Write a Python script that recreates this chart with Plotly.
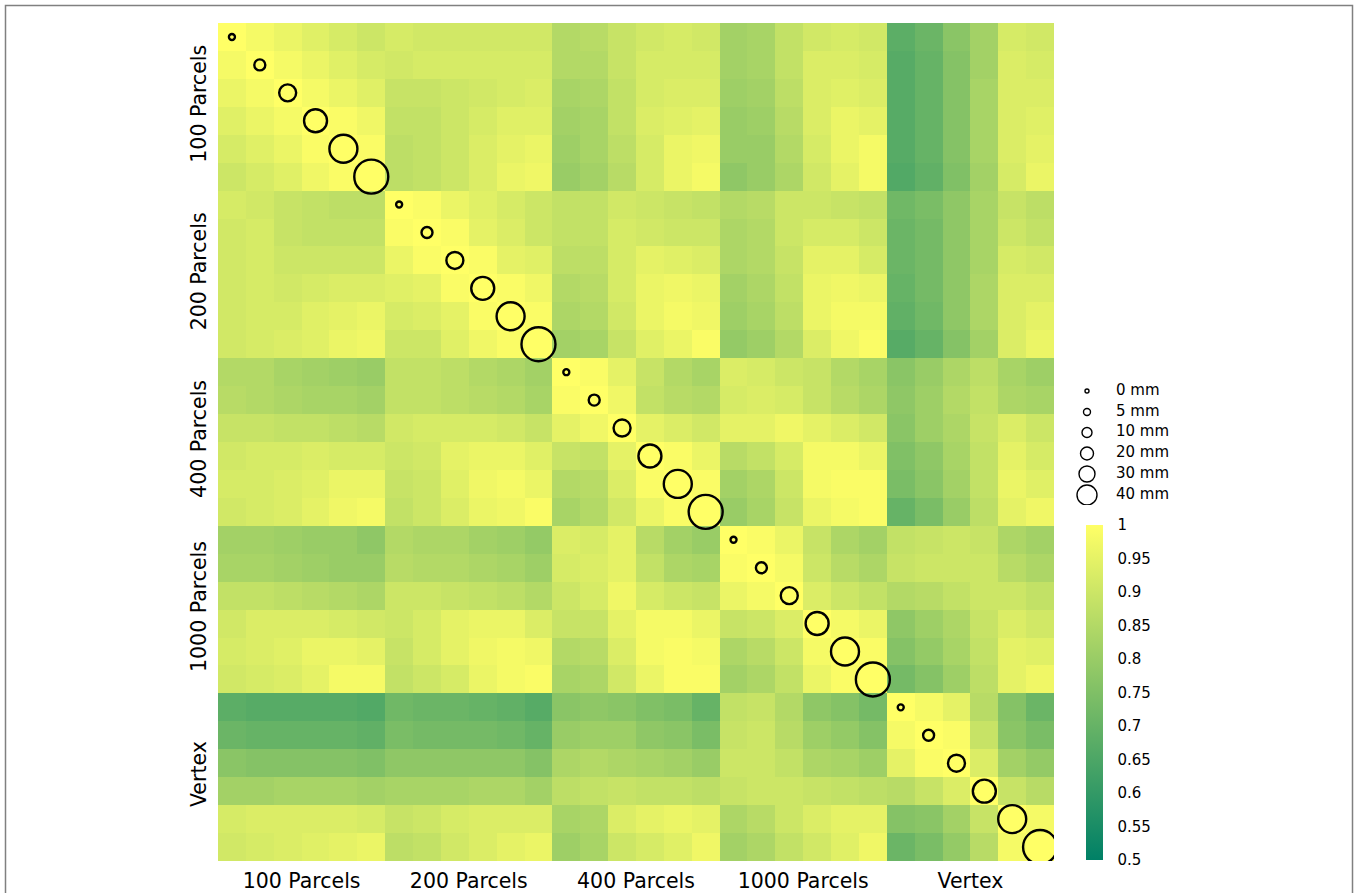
import numpy as np
import plotly.graph_objects as go

# ---------------- data ----------------
groups = ["100 Parcels", "200 Parcels", "400 Parcels", "1000 Parcels", "Vertex"]
smoothing_labels = ["0 mm", "5 mm", "10 mm", "20 mm", "30 mm", "40 mm"]

# 6x6 blocks (rows: smoothing level of row group, cols: smoothing level of column group)
blk_100_100 = [
    [1.00, 0.98, 0.96, 0.94, 0.92, 0.90],
    [0.98, 1.00, 0.98, 0.96, 0.94, 0.92],
    [0.96, 0.98, 1.00, 0.98, 0.96, 0.94],
    [0.94, 0.96, 0.98, 1.00, 0.99, 0.97],
    [0.92, 0.94, 0.96, 0.99, 1.00, 0.99],
    [0.90, 0.92, 0.94, 0.97, 0.99, 1.00],
]
blk_100_200 = [
    [0.92, 0.91, 0.91, 0.91, 0.91, 0.91],
    [0.91, 0.92, 0.92, 0.92, 0.92, 0.92],
    [0.89, 0.89, 0.90, 0.91, 0.92, 0.93],
    [0.88, 0.88, 0.90, 0.92, 0.94, 0.94],
    [0.87, 0.88, 0.90, 0.93, 0.95, 0.96],
    [0.87, 0.88, 0.90, 0.93, 0.96, 0.97],
]
blk_100_400 = [
    [0.85, 0.86, 0.89, 0.91, 0.92, 0.91],
    [0.85, 0.85, 0.89, 0.92, 0.92, 0.92],
    [0.83, 0.84, 0.88, 0.92, 0.93, 0.93],
    [0.82, 0.83, 0.88, 0.93, 0.94, 0.95],
    [0.81, 0.83, 0.87, 0.92, 0.96, 0.97],
    [0.80, 0.82, 0.86, 0.92, 0.96, 0.98],
]
blk_100_1000 = [
    [0.82, 0.83, 0.88, 0.91, 0.92, 0.91],
    [0.82, 0.83, 0.88, 0.93, 0.93, 0.92],
    [0.81, 0.82, 0.87, 0.93, 0.94, 0.93],
    [0.80, 0.81, 0.86, 0.93, 0.96, 0.95],
    [0.80, 0.80, 0.85, 0.92, 0.96, 0.98],
    [0.78, 0.80, 0.84, 0.91, 0.95, 0.98],
]
blk_100_vertex = [
    [0.68, 0.71, 0.77, 0.82, 0.92, 0.91],
    [0.67, 0.70, 0.76, 0.82, 0.93, 0.92],
    [0.67, 0.70, 0.76, 0.83, 0.93, 0.93],
    [0.67, 0.70, 0.76, 0.83, 0.93, 0.94],
    [0.67, 0.70, 0.76, 0.83, 0.93, 0.95],
    [0.66, 0.69, 0.75, 0.82, 0.92, 0.96],
]
blk_200_200 = [
    [1.00, 0.99, 0.96, 0.94, 0.92, 0.90],
    [0.99, 1.00, 0.99, 0.95, 0.93, 0.90],
    [0.96, 0.99, 1.00, 0.99, 0.95, 0.94],
    [0.94, 0.95, 0.99, 1.00, 0.99, 0.97],
    [0.92, 0.93, 0.95, 0.99, 1.00, 0.99],
    [0.90, 0.90, 0.94, 0.97, 0.99, 1.00],
]
blk_200_400 = [
    [0.88, 0.88, 0.91, 0.90, 0.89, 0.88],
    [0.88, 0.88, 0.92, 0.91, 0.90, 0.90],
    [0.87, 0.87, 0.92, 0.95, 0.94, 0.93],
    [0.85, 0.86, 0.92, 0.96, 0.97, 0.96],
    [0.84, 0.85, 0.91, 0.96, 0.98, 0.97],
    [0.82, 0.83, 0.89, 0.94, 0.96, 0.99],
]
blk_200_1000 = [
    [0.85, 0.86, 0.90, 0.90, 0.89, 0.88],
    [0.84, 0.85, 0.90, 0.92, 0.92, 0.90],
    [0.84, 0.85, 0.89, 0.95, 0.95, 0.92],
    [0.82, 0.84, 0.88, 0.96, 0.97, 0.96],
    [0.81, 0.83, 0.87, 0.96, 0.98, 0.98],
    [0.79, 0.81, 0.85, 0.93, 0.97, 0.99],
]
blk_200_vertex = [
    [0.72, 0.74, 0.78, 0.83, 0.89, 0.87],
    [0.71, 0.73, 0.78, 0.83, 0.90, 0.88],
    [0.71, 0.73, 0.78, 0.83, 0.92, 0.91],
    [0.70, 0.73, 0.78, 0.84, 0.93, 0.93],
    [0.69, 0.72, 0.78, 0.84, 0.93, 0.95],
    [0.67, 0.70, 0.76, 0.82, 0.93, 0.96],
]
blk_400_400 = [
    [1.00, 0.99, 0.95, 0.89, 0.85, 0.83],
    [0.99, 1.00, 0.97, 0.88, 0.86, 0.85],
    [0.95, 0.97, 1.00, 0.95, 0.93, 0.91],
    [0.89, 0.88, 0.95, 1.00, 0.99, 0.96],
    [0.85, 0.86, 0.93, 0.99, 1.00, 0.99],
    [0.83, 0.85, 0.91, 0.96, 0.99, 1.00],
]
blk_400_1000 = [
    [0.93, 0.92, 0.90, 0.89, 0.85, 0.83],
    [0.92, 0.93, 0.92, 0.89, 0.86, 0.84],
    [0.95, 0.95, 0.97, 0.95, 0.93, 0.91],
    [0.86, 0.88, 0.92, 0.98, 0.98, 0.96],
    [0.82, 0.84, 0.90, 0.98, 0.99, 0.99],
    [0.80, 0.83, 0.89, 0.96, 0.98, 0.99],
]
blk_400_vertex = [
    [0.77, 0.80, 0.84, 0.87, 0.83, 0.81],
    [0.78, 0.81, 0.85, 0.88, 0.84, 0.83],
    [0.77, 0.81, 0.84, 0.89, 0.93, 0.90],
    [0.75, 0.78, 0.83, 0.88, 0.95, 0.92],
    [0.74, 0.77, 0.82, 0.88, 0.96, 0.94],
    [0.70, 0.74, 0.80, 0.87, 0.95, 0.97],
]
blk_1000_1000 = [
    [1.00, 0.99, 0.96, 0.89, 0.84, 0.82],
    [0.99, 1.00, 0.98, 0.90, 0.86, 0.84],
    [0.96, 0.98, 1.00, 0.93, 0.90, 0.88],
    [0.89, 0.90, 0.93, 1.00, 0.98, 0.96],
    [0.84, 0.86, 0.90, 0.98, 1.00, 0.99],
    [0.82, 0.84, 0.88, 0.96, 0.99, 1.00],
]
blk_1000_vertex = [
    [0.88, 0.89, 0.90, 0.89, 0.84, 0.82],
    [0.89, 0.90, 0.90, 0.90, 0.86, 0.84],
    [0.85, 0.86, 0.88, 0.90, 0.90, 0.88],
    [0.78, 0.81, 0.84, 0.89, 0.93, 0.91],
    [0.76, 0.79, 0.83, 0.88, 0.95, 0.94],
    [0.73, 0.76, 0.81, 0.87, 0.95, 0.97],
]
blk_vertex_vertex = [
    [1.00, 0.98, 0.95, 0.86, 0.76, 0.71],
    [0.98, 1.00, 0.99, 0.89, 0.77, 0.74],
    [0.95, 0.99, 1.00, 0.93, 0.82, 0.79],
    [0.86, 0.89, 0.93, 1.00, 0.89, 0.86],
    [0.76, 0.77, 0.82, 0.89, 1.00, 0.98],
    [0.71, 0.74, 0.79, 0.86, 0.98, 1.00],
]

colorbar_tickvals = [0.5, 0.55, 0.6, 0.65, 0.7, 0.75, 0.8, 0.85, 0.9, 0.95, 1.0]
colorbar_ticktext = ["0.5", "0.55", "0.6", "0.65", "0.7", "0.75", "0.8", "0.85", "0.9", "0.95", "1"]

# ---------------- assemble the (symmetric) matrix ----------------
upper_blocks = {
    (0, 0): blk_100_100, (0, 1): blk_100_200, (0, 2): blk_100_400, (0, 3): blk_100_1000, (0, 4): blk_100_vertex,
    (1, 1): blk_200_200, (1, 2): blk_200_400, (1, 3): blk_200_1000, (1, 4): blk_200_vertex,
    (2, 2): blk_400_400, (2, 3): blk_400_1000, (2, 4): blk_400_vertex,
    (3, 3): blk_1000_1000, (3, 4): blk_1000_vertex,
    (4, 4): blk_vertex_vertex,
}
ng, ns = len(groups), len(smoothing_labels)
n = ng * ns
Z = np.zeros((n, n))
for g in range(ng):
    for h in range(ng):
        if g <= h:
            b = np.array(upper_blocks[(g, h)])
        else:
            b = np.array(upper_blocks[(h, g)]).T
        Z[g * ns:(g + 1) * ns, h * ns:(h + 1) * ns] = b

idx = list(range(n))

# ---------------- styling / geometry ----------------
W, H = 1359, 893
FONT = "DejaVu Sans"
def px_x(p):
    return p / W
def px_y(p):
    return 1 - p / H

main_x_dom = [px_x(218), px_x(1054)]
main_y_dom = [px_y(861), px_y(23)]

diag_sizes = [6, 11, 17, 23, 28, 34]
legend_sizes = [4, 7, 10, 13, 16, 20]

fig = go.Figure()

fig.add_trace(go.Heatmap(
    z=Z, x=idx, y=idx,
    zmin=0.5, zmax=1.0,
    colorscale=[[0.0, "#008066"], [1.0, "#ffff66"]],
    xaxis="x", yaxis="y",
    colorbar=dict(
        x=px_x(1086), xanchor="left", xpad=0,
        y=px_y(860), yanchor="bottom", ypad=0,
        lenmode="pixels", len=335,
        thickness=17, outlinewidth=0,
        tickvals=colorbar_tickvals, ticktext=colorbar_ticktext,
        ticks="outside", ticklen=12, tickcolor="rgba(0,0,0,0)",
        tickfont=dict(family=FONT, size=15, color="black"),
    ),
    hoverinfo="skip",
))

# diagonal circles
diag_idx = [g * ns + s for g in range(ng) for s in range(ns)]
fig.add_trace(go.Scatter(
    x=diag_idx, y=diag_idx, mode="markers",
    marker=dict(size=[diag_sizes[i % ns] for i in diag_idx],
                color="rgba(0,0,0,0)", opacity=1,
                line=dict(color="black", width=2.4)),
    xaxis="x", yaxis="y", showlegend=False, hoverinfo="skip",
))

# size legend (drawn on a pixel-scaled auxiliary axis)
leg_y = [391, 412, 432.5, 453.5, 474, 495]
fig.add_trace(go.Scatter(
    x=[17] * ns, y=leg_y, mode="markers",
    marker=dict(size=legend_sizes, color="rgba(0,0,0,0)", opacity=1,
                line=dict(color="black", width=1.4)),
    xaxis="x2", yaxis="y2", showlegend=False, hoverinfo="skip",
))
fig.add_trace(go.Scatter(
    x=[46] * ns, y=leg_y, mode="text", text=smoothing_labels,
    textposition="middle right",
    textfont=dict(family=FONT, size=15, color="black"),
    xaxis="x2", yaxis="y2", showlegend=False, hoverinfo="skip",
))

tick_pos = [g * ns + (ns - 1) / 2 for g in range(ng)]

fig.update_layout(
    width=W, height=H,
    margin=dict(l=0, r=0, t=0, b=0),
    paper_bgcolor="white", plot_bgcolor="white",
    font=dict(family=FONT, color="black"),
    showlegend=False,
    xaxis=dict(domain=main_x_dom, range=[-0.5, n - 0.5], showgrid=False, zeroline=False,
               showline=False, tickvals=tick_pos, ticktext=groups,
               ticks="outside", ticklen=1.5, tickcolor="rgba(0,0,0,0)",
               tickfont=dict(family=FONT, size=20.5, color="black"),
               automargin=False, anchor="y", fixedrange=True),
    yaxis=dict(domain=main_y_dom, range=[n - 0.5, -0.5], showgrid=False, zeroline=False,
               showline=False, tickvals=tick_pos, ticktext=groups, tickangle=-90,
               ticks="outside", ticklen=3, tickcolor="rgba(0,0,0,0)",
               tickfont=dict(family=FONT, size=20.5, color="black"),
               automargin=False, anchor="x", fixedrange=True),
    xaxis2=dict(domain=[px_x(1070), px_x(1200)], range=[0, 130], visible=False,
                anchor="y2", fixedrange=True),
    yaxis2=dict(domain=[px_y(505), px_y(380)], range=[505, 380], visible=False,
                anchor="x2", fixedrange=True),
    shapes=[dict(type="rect", xref="paper", yref="paper",
                 x0=px_x(5.5), x1=px_x(1352.5), y0=px_y(905), y1=px_y(5.5),
                 line=dict(color="#808080", width=1.5), fillcolor="rgba(0,0,0,0)",
                 layer="below")],
)

fig.write_html(
    "out.html",
    config={"displayModeBar": False},
    post_script="document.body.style.margin='0';document.body.style.overflow='hidden';",
)
